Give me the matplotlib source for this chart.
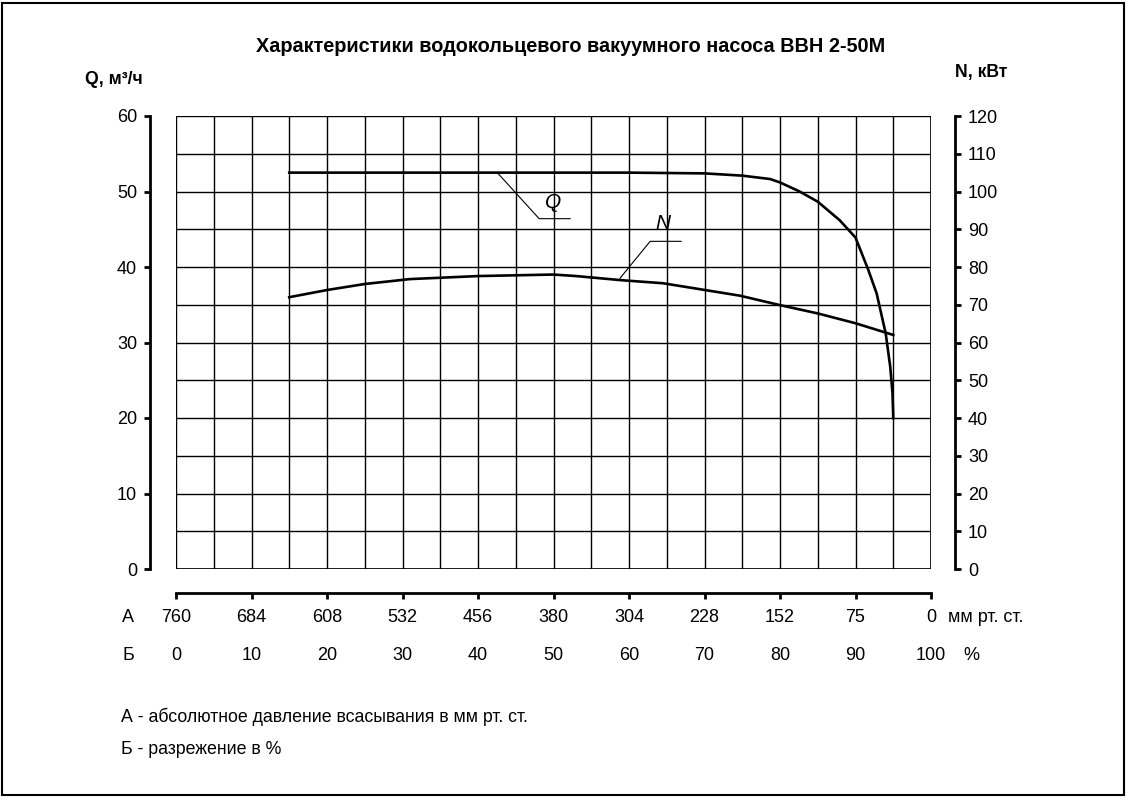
import matplotlib
matplotlib.use("Agg")
import matplotlib.pyplot as plt
from matplotlib.patches import Rectangle
from matplotlib.ticker import MultipleLocator
import matplotlib.transforms as mtransforms

plt.rcParams['font.family'] = ['Liberation Sans', 'DejaVu Sans']

# Б - разрежение, %
vac_ticks = [0, 10, 20, 30, 40, 50, 60, 70, 80, 90, 100]
# А - абсолютное давление, мм рт. ст.
press_labels = ['760', '684', '608', '532', '456', '380', '304', '228', '152', '75', '0']

# Q, м3/ч
q_x = [15, 30, 40, 50, 60, 70, 75, 78.7, 80, 82.6, 85, 87.9, 90, 91.7, 92.8, 94, 94.6, 94.9, 95]
q_y = [52.5, 52.5, 52.5, 52.5, 52.5, 52.4, 52.1, 51.65, 51.2, 50.0, 48.65, 46.2, 43.9, 39.6, 36.5,
       31.2, 26.8, 23.3, 20.0]

# N, кВт
n_x = [15, 20, 25, 31, 40, 45, 50, 53, 59, 64.5, 74.7, 80, 85, 90, 95]
n_y = [72.0, 73.9, 75.5, 76.8, 77.6, 77.8, 78.0, 77.6, 76.5, 75.7, 72.4, 69.9, 67.7, 65.1, 62.0]

PX = 72 / 100  # pixels -> points

fig = plt.figure(figsize=(11.27, 7.98), dpi=100)
ax = fig.add_axes([176 / 1127, 1 - 569 / 798, 755 / 1127, 453 / 798])
ax2 = ax.twinx()

ax.set_xlim(0, 100)
ax.set_ylim(0, 60)
ax2.set_ylim(0, 120)

ax.xaxis.set_major_locator(MultipleLocator(10))
ax.xaxis.set_minor_locator(MultipleLocator(5))
ax.yaxis.set_major_locator(MultipleLocator(10))
ax.yaxis.set_minor_locator(MultipleLocator(5))
ax2.yaxis.set_major_locator(MultipleLocator(10))

ax.grid(True, which='both', color='black', lw=1.0)
ax.set_axisbelow(True)
ax.add_patch(Rectangle((0, 0), 1, 1, transform=ax.transAxes, fill=False,
                       lw=1.2, ec='black', zorder=1))

for s in ['top', 'right']:
    ax.spines[s].set_visible(False)
for s in ['top', 'left', 'bottom']:
    ax2.spines[s].set_visible(False)
ax.spines['left'].set_position(('outward', 26 * PX))
ax.spines['bottom'].set_position(('outward', 24 * PX))
ax2.spines['right'].set_position(('outward', 24 * PX))
for sp in [ax.spines['left'], ax.spines['bottom'], ax2.spines['right']]:
    sp.set_linewidth(2.0)

ax.tick_params(which='major', direction='out', length=6 * PX, width=2.0, labelsize=13)
ax.tick_params(which='minor', length=0)
ax2.tick_params(which='major', direction='out', length=6 * PX, width=2.0, labelsize=13,
                pad=7 * PX)
ax.tick_params(axis='x', pad=10 * PX)
ax.tick_params(axis='y', pad=7 * PX)

ax.set_xticks(vac_ticks)
ax.set_xticklabels(press_labels)

# второй ряд подписей (Б)
trans = mtransforms.blended_transform_factory(ax.transData, fig.transFigure)
for v in vac_ticks:
    ax.text(v, 1 - 656 / 798, str(v), transform=trans, ha='center', va='center', fontsize=13)

ax.plot(q_x, q_y, color='black', lw=1.9, zorder=3)
ax2.plot(n_x, n_y, color='black', lw=1.9, zorder=3)

# выноски
ax.plot([42.6, 48.1, 52.2], [52.45, 46.4, 46.4], color='black', lw=0.8, zorder=3)
ax.text(49.9, 48.6, 'Q', style='italic', fontsize=15, ha='center', va='center', zorder=4)
ax.plot([58.8, 62.8, 66.9], [38.5, 43.4, 43.4], color='black', lw=0.8, zorder=3)
ax.text(64.5, 45.7, 'N', style='italic', fontsize=15, ha='center', va='center', zorder=4)

fig.text(571 / 1127, 1 - 47 / 798, 'Характеристики водокольцевого вакуумного насоса ВВН 2-50М',
         ha='center', va='center', fontsize=14.3, fontweight='bold')
fig.text(85 / 1127, 1 - 80 / 798, 'Q, м³/ч', ha='left', va='center', fontsize=12.7, fontweight='bold')
fig.text(955 / 1127, 1 - 72 / 798, 'N, кВт', ha='left', va='center', fontsize=12.7, fontweight='bold')

fig.text(122 / 1127, 1 - 617 / 798, 'А', ha='left', va='center', fontsize=13)
fig.text(122 / 1127, 1 - 656 / 798, 'Б', ha='left', va='center', fontsize=13)
fig.text(948 / 1127, 1 - 617 / 798, 'мм рт. ст.', ha='left', va='center', fontsize=13)
fig.text(963 / 1127, 1 - 656 / 798, '%', ha='left', va='center', fontsize=13)

fig.text(121 / 1127, 1 - 717 / 798, 'А - абсолютное давление всасывания в мм рт. ст.',
         ha='left', va='center', fontsize=12.8)
fig.text(121 / 1127, 1 - 750 / 798, 'Б - разрежение в %', ha='left', va='center', fontsize=12.8)

fig.patches.append(Rectangle((2 / 1127, 3 / 798), 1122 / 1127, 792 / 798, transform=fig.transFigure,
                             fill=False, lw=1.5, ec='black'))

fig.savefig('out.png', dpi=100)
